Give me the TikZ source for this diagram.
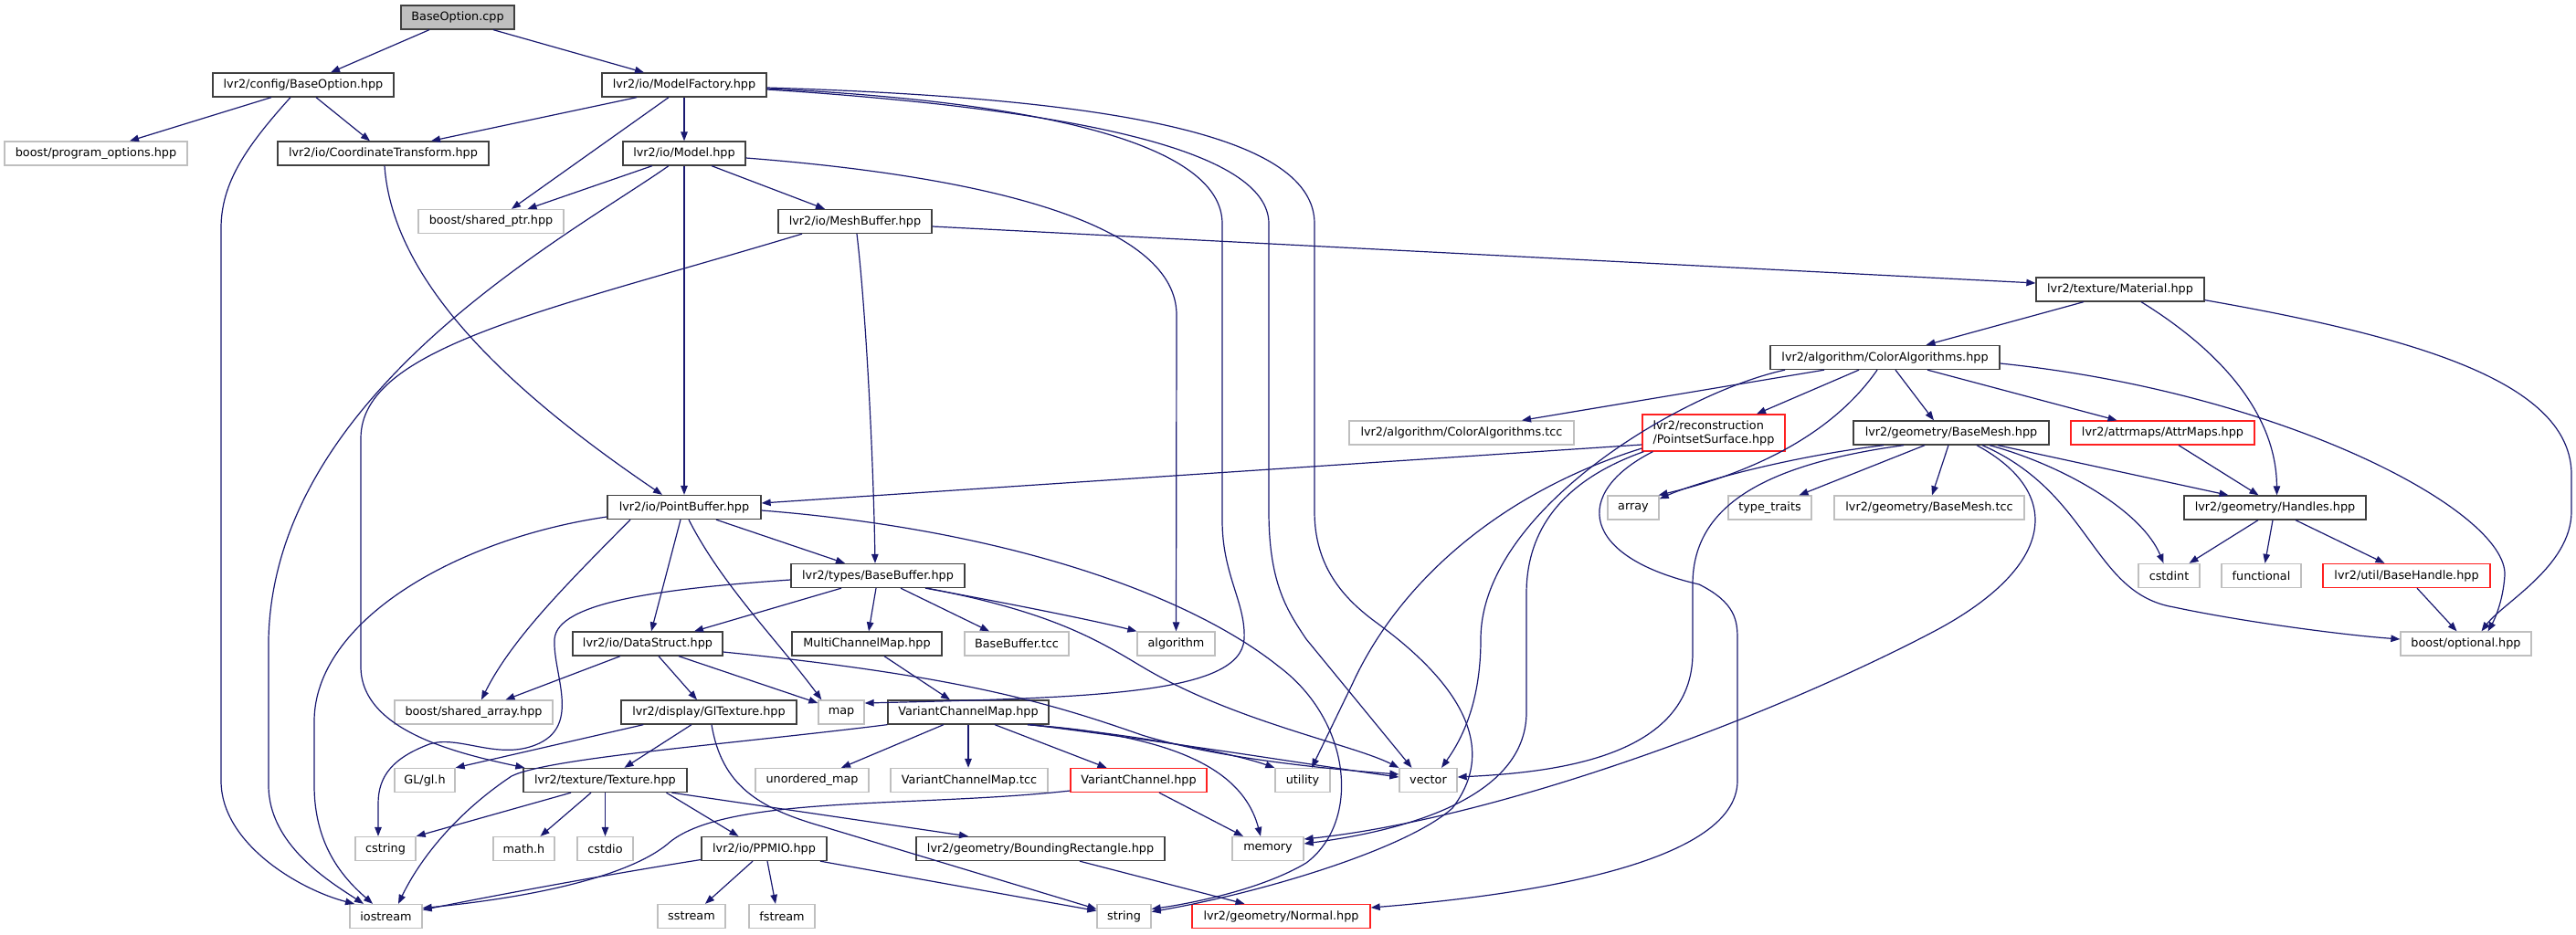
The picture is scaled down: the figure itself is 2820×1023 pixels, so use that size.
\documentclass[tikz,border=0pt]{standalone}
\usepackage{fontspec}
\setmainfont{DejaVu Sans}
\usetikzlibrary{arrows.meta}
\definecolor{edgeblue}{HTML}{191970}
\definecolor{boxgrey}{HTML}{BFBFBF}
\definecolor{boxdark}{HTML}{404040}
\definecolor{boxred}{HTML}{FF2020}

\begin{document}
\begin{tikzpicture}[x=1pt,y=-1pt,
  incbox/.style={draw, line width=1.3pt, minimum height=26pt, inner sep=2pt, fill=white,
    font=\fontsize{12.8}{15}\selectfont},
  hdrfile/.style={incbox, draw=boxdark},
  sysfile/.style={incbox, draw=boxgrey},
  missfile/.style={incbox, draw=boxred},
  rootfile/.style={incbox, draw=boxdark, fill=boxgrey},
  incedge/.style={draw=edgeblue, line width=1.2pt, -{Triangle[length=10pt,width=7.5pt]}}]
\useasboundingbox (0,0) rectangle (2820,1023);

% Text Node
\node[rootfile, minimum width=124pt] (root) at (501,19) {BaseOption.cpp};
\node[hdrfile, minimum width=198pt] (cfgopt) at (332,93) {lvr2/config/BaseOption.hpp};
\node[hdrfile, minimum width=180pt] (mfac) at (749,93) {lvr2/io/ModelFactory.hpp};
\node[sysfile, minimum width=200pt] (progopt) at (105,168) {boost/program\_options.hpp};
\node[hdrfile, minimum width=231pt] (coord) at (419.5,168) {lvr2/io/CoordinateTransform.hpp};
\node[hdrfile, minimum width=134pt] (model) at (749,168) {lvr2/io/Model.hpp};
\node[sysfile, minimum width=159pt] (sharedptr) at (537.5,242.5) {boost/shared\_ptr.hpp};
\node[hdrfile, minimum width=168pt] (meshbuf) at (936,242.5) {lvr2/io/MeshBuffer.hpp};
\node[hdrfile, minimum width=184pt] (material) at (2321,317) {lvr2/texture/Material.hpp};
\node[hdrfile, minimum width=251pt] (coloralg) at (2063.5,391.5) {lvr2/algorithm/ColorAlgorithms.hpp};
% Text Node
\node[sysfile, minimum width=246pt] (coloralgtcc) at (1600,474) {lvr2/algorithm/ColorAlgorithms.tcc};
\node[missfile, minimum width=156pt, minimum height=40pt, align=left] (pointset) at (1876,474) {lvr2/reconstruction\\/PointsetSurface.hpp};
\node[hdrfile, minimum width=214pt] (basemesh) at (2136,474) {lvr2/geometry/BaseMesh.hpp};
\node[missfile, minimum width=201pt] (attrmaps) at (2367.5,474) {lvr2/attrmaps/AttrMaps.hpp};
\node[hdrfile, minimum width=168pt] (pointbuf) at (749,555.5) {lvr2/io/PointBuffer.hpp};
\node[sysfile, minimum width=56pt] (array) at (1788,556) {array};
\node[sysfile, minimum width=91pt] (typetraits) at (1937.5,556) {type\_traits};
\node[sysfile, minimum width=208pt] (basemeshtcc) at (2112,556) {lvr2/geometry/BaseMesh.tcc};
\node[hdrfile, minimum width=199pt] (handles) at (2490.5,556) {lvr2/geometry/Handles.hpp};
\node[hdrfile, minimum width=190pt] (basebuf) at (961,630.5) {lvr2/types/BaseBuffer.hpp};
\node[sysfile, minimum width=67pt] (cstdint) at (2374.5,630.5) {cstdint};
\node[sysfile, minimum width=87pt] (functional) at (2475.5,630.5) {functional};
\node[missfile, minimum width=183pt] (basehandle) at (2634.5,630.5) {lvr2/util/BaseHandle.hpp};
% Text Node
\node[hdrfile, minimum width=164pt] (datastruct) at (709,705) {lvr2/io/DataStruct.hpp};
\node[hdrfile, minimum width=164pt] (multichan) at (949,705) {MultiChannelMap.hpp};
\node[sysfile, minimum width=114pt] (basebuftcc) at (1113,705) {BaseBuffer.tcc};
\node[sysfile, minimum width=85pt] (algorithm) at (1287.5,705) {algorithm};
\node[sysfile, minimum width=143pt] (optional) at (2699.5,705) {boost/optional.hpp};
\node[sysfile, minimum width=173pt] (sharedarr) at (518.5,780) {boost/shared\_array.hpp};
\node[hdrfile, minimum width=192pt] (gltex) at (776,780) {lvr2/display/GlTexture.hpp};
\node[sysfile, minimum width=50pt] (map) at (921,780) {map};
\node[hdrfile, minimum width=176pt] (varchanmap) at (1060,780) {VariantChannelMap.hpp};
\node[sysfile, minimum width=66pt] (glh) at (465,854.5) {GL/gl.h};
\node[hdrfile, minimum width=179pt] (texture) at (662.5,854.5) {lvr2/texture/Texture.hpp};
\node[sysfile, minimum width=124pt] (unordmap) at (889,854.5) {unordered\_map};
\node[sysfile, minimum width=172pt] (varchanmaptcc) at (1061,854.5) {VariantChannelMap.tcc};
\node[missfile, minimum width=149pt] (varchan) at (1246.5,854.5) {VariantChannel.hpp};
\node[sysfile, minimum width=60pt] (utility) at (1426,854.5) {utility};
\node[sysfile, minimum width=63pt] (vector) at (1563.5,854.5) {vector};
% Text Node
\node[sysfile, minimum width=66pt] (cstring) at (422,929.5) {cstring};
\node[sysfile, minimum width=67pt] (mathh) at (573.5,929.5) {math.h};
\node[sysfile, minimum width=61pt] (cstdio) at (662.5,929.5) {cstdio};
\node[hdrfile, minimum width=137pt] (ppmio) at (836.5,929.5) {lvr2/io/PPMIO.hpp};
\node[hdrfile, minimum width=272pt] (boundrect) at (1139,929.5) {lvr2/geometry/BoundingRectangle.hpp};
\node[sysfile, minimum width=78pt] (memory) at (1388,929.5) {memory};
\node[sysfile, minimum width=79pt] (iostream) at (422.5,1003.5) {iostream};
\node[sysfile, minimum width=74pt] (sstream) at (757,1003.5) {sstream};
\node[sysfile, minimum width=72pt] (fstream) at (856,1003.5) {fstream};
\node[sysfile, minimum width=59pt] (string) at (1230.5,1003.5) {string};
\node[missfile, minimum width=195pt] (normal) at (1402.5,1003.5) {lvr2/geometry/Normal.hpp};

%Straight Lines
\draw[incedge] ([xshift=-31pt]root.south) -- ([xshift=30pt]cfgopt.north);
\draw[incedge] ([xshift=39pt]root.south) -- ([xshift=-44pt]mfac.north);
\draw[incedge] ([xshift=-35pt]cfgopt.south) -- ([xshift=37pt]progopt.north);
\draw[incedge] ([xshift=14pt]cfgopt.south) -- ([xshift=-14.5pt]coord.north);
\draw[incedge] ([xshift=-52pt]mfac.south) -- ([xshift=52.5pt]coord.north);
\draw[incedge] ([xshift=-17pt]mfac.south) -- ([xshift=22.5pt]sharedptr.north);
\draw[incedge] (mfac) -- (model);
\draw[incedge] (model) -- (pointbuf);
\draw[incedge] ([xshift=30pt]model.south) -- ([xshift=-33pt]meshbuf.north);
\draw[incedge] ([xshift=-35pt]model.south) -- ([xshift=40pt]sharedptr.north);
\draw[incedge] ([yshift=-5.5pt]meshbuf.east) -- ([yshift=7pt]material.west);
\draw[incedge] ([xshift=-40pt]material.south) -- ([xshift=45pt]coloralg.north);
\draw[incedge] ([xshift=-66.5pt]coloralg.south) -- ([xshift=66pt]coloralgtcc.north);
\draw[incedge] ([xshift=-28.5pt]coloralg.south) -- ([xshift=47pt]pointset.north);
\draw[incedge] ([xshift=11.5pt]coloralg.south) -- ([xshift=-19pt]basemesh.north);
\draw[incedge] ([xshift=46.5pt]coloralg.south) -- ([xshift=-50pt]attrmaps.north);
\draw[incedge] ([yshift=-13pt]pointset.west) -- ([yshift=4.5pt]pointbuf.east);
\draw[incedge] ([xshift=-29pt]basemesh.south) -- ([xshift=32pt]typetraits.north);
\draw[incedge] ([xshift=-3pt]basemesh.south) -- ([xshift=3pt]basemeshtcc.north);
\draw[incedge] ([xshift=51pt]basemesh.south) -- ([xshift=-51pt]handles.north);
\draw[incedge] ([xshift=17.5pt]attrmaps.south) -- ([xshift=-18pt]handles.north);
\draw[incedge] ([xshift=-18.5pt]handles.south) -- ([xshift=22pt]cstdint.north);
\draw[incedge] ([xshift=-2.5pt]handles.south) -- ([xshift=4pt]functional.north);
\draw[incedge] ([xshift=22.5pt]handles.south) -- ([xshift=-24pt]basehandle.north);
\draw[incedge] ([xshift=11.5pt]basehandle.south) -- ([xshift=-10pt]optional.north);
\draw[incedge] ([xshift=-4pt]pointbuf.south) -- ([xshift=4pt]datastruct.north);
\draw[incedge] ([xshift=35pt]pointbuf.south) -- ([xshift=-36pt]basebuf.north);
\draw[incedge] ([xshift=-40pt]basebuf.south) -- ([xshift=51pt]datastruct.north);
\draw[incedge] ([xshift=-2pt]basebuf.south) -- ([xshift=2pt]multichan.north);
\draw[incedge] ([xshift=25pt]basebuf.south) -- ([xshift=-30pt]basebuftcc.north);
\draw[incedge] ([xshift=-30pt]datastruct.south) -- ([xshift=35pt]sharedarr.north);
\draw[incedge] ([xshift=12pt]datastruct.south) -- ([xshift=-13pt]gltex.north);
\draw[incedge] ([xshift=34pt]datastruct.south) -- ([yshift=10pt]map.west);
\draw[incedge] ([xshift=19pt]multichan.south) -- ([xshift=-20pt]varchanmap.north);
\draw[incedge] ([xshift=25pt]gltex.south west) -- (glh.north east);
\draw[incedge] ([xshift=-19pt]gltex.south) -- ([xshift=21pt]texture.north);
\draw[incedge] ([xshift=-27pt]varchanmap.south) -- ([xshift=32pt]unordmap.north);
\draw[incedge] (varchanmap.south) -- ([xshift=-1pt]varchanmaptcc.north);
\draw[incedge] ([xshift=29pt]varchanmap.south) -- ([xshift=-35pt]varchan.north);
\draw[incedge] ([xshift=22.5pt]varchan.south) -- ([xshift=-27pt]memory.north);
\draw[incedge] ([xshift=-37.5pt]texture.south) -- (cstring.north east);
\draw[incedge] ([xshift=-15.5pt]texture.south) -- ([xshift=18pt]mathh.north);
\draw[incedge] (texture) -- (cstdio);
\draw[incedge] ([xshift=67pt]texture.south) -- ([xshift=-28pt]ppmio.north);
\draw[incedge] ([xshift=73pt]texture.south) -- ([xshift=-79pt]boundrect.north);
\draw[incedge] ([xshift=-12.5pt]ppmio.south) -- ([xshift=15pt]sstream.north);
\draw[incedge] ([xshift=3.5pt]ppmio.south) -- ([xshift=-7pt]fstream.north);
\draw[incedge] ([xshift=61.5pt]ppmio.south) -- ([yshift=6pt]string.west);
\draw[incedge] ([xshift=43pt]boundrect.south) -- ([xshift=-40pt]normal.north);

%Curve Lines
\draw[incedge] ([xshift=-14pt]cfgopt.south) .. controls (270,160) and (242,200) .. (242,250) -- (242,855) .. controls (242,925) and (330,975) .. ([xshift=-34.5pt]iostream.north);
\draw[incedge] ([yshift=-4pt]mfac.east) .. controls (1150,112) and (1338,160) .. (1338,245) -- (1338,570) .. controls (1338,630) and (1364,660) .. (1362,700) .. controls (1358,760) and (1200,764) .. ([yshift=10pt]map.east);
\draw[incedge] ([yshift=-5pt]mfac.east) .. controls (1180,120) and (1389,165) .. (1389,245) -- (1389,560) .. controls (1389,640) and (1410,670) .. (1430,700) -- ([xshift=-18pt]vector.north);
\draw[incedge] ([yshift=-3pt]mfac.east) .. controls (1230,108) and (1439,150) .. (1439,245) -- (1439,560) .. controls (1439,620) and (1470,655) .. (1507,682) .. controls (1600,750) and (1640,820) .. (1590,885) .. controls (1540,930) and (1380,978) .. ([yshift=5pt]string.east);
\draw[incedge] ([xshift=-17pt]model.south) .. controls (620,260) and (300,430) .. (294,700) -- (294,860) .. controls (294,925) and (360,965) .. ([xshift=-24.5pt]iostream.north);
\draw[incedge] ([yshift=-5pt]model.east) .. controls (1100,195) and (1288,250) .. (1288,345) -- (algorithm.north);
\draw[incedge] ([xshift=1.5pt]coord.south) .. controls (430,310) and (560,430) .. ([xshift=-24pt]pointbuf.north);
\draw[incedge] ([xshift=2pt]meshbuf.south) .. controls (948,340) and (956,500) .. ([xshift=-3pt]basebuf.north);
\draw[incedge] ([xshift=-58pt]meshbuf.south) .. controls (600,340) and (395,380) .. (395,480) -- (395,730) .. controls (395,800) and (500,825) .. ([xshift=2pt]texture.north west);
\draw[incedge] ([xshift=23pt]material.south) .. controls (2440,390) and (2492,460) .. ([xshift=2pt]handles.north);
\draw[incedge] ([yshift=2pt]material.south east) .. controls (2650,370) and (2815,420) .. (2815,520) -- (2815,560) .. controls (2815,620) and (2740,660) .. ([xshift=17pt]optional.north);
\draw[incedge] ([xshift=-109.5pt]coloralg.south) .. controls (1840,430) and (1621,560) .. (1621,700) .. controls (1621,770) and (1600,810) .. ([xshift=14.5pt]vector.north);
\draw[incedge] ([xshift=-8.5pt]coloralg.south) .. controls (2010,470) and (1930,515) .. ([xshift=-1pt]array.north east);
\draw[incedge] ([yshift=-6.5pt]coloralg.east) .. controls (2500,430) and (2745,560) .. (2742,630) .. controls (2740,660) and (2730,680) .. ([xshift=24pt]optional.north);
\draw[incedge] ([yshift=-17pt]pointset.west) .. controls (1640,540) and (1530,640) .. (1480,750) -- ([xshift=10pt]utility.north);
\draw[incedge] ([xshift=2pt]pointset.south west) .. controls (1700,530) and (1671,590) .. (1671,650) -- (1671,780) .. controls (1671,880) and (1520,912) .. ([yshift=5.5pt]memory.east);
\draw[incedge] ([xshift=12pt]pointset.south west) .. controls (1720,540) and (1730,610) .. (1860,640) .. controls (1900,660) and (1902,680) .. (1902,700) -- (1902,855) .. controls (1902,950) and (1650,982) .. ([yshift=9.5pt]normal.east);
\draw[incedge] ([xshift=-74pt]basemesh.south) .. controls (1960,500) and (1860,527) .. ([yshift=-4pt]array.north east);
\draw[incedge] ([xshift=-52pt]basemesh.south) .. controls (1920,510) and (1853,560) .. (1853,640) -- (1853,715) .. controls (1853,830) and (1700,846) .. ([yshift=3.5pt]vector.east);
\draw[incedge] ([xshift=42pt]basemesh.south) .. controls (2260,510) and (2345,560) .. ([xshift=-6pt]cstdint.north);
\draw[incedge] ([xshift=34pt]basemesh.south) .. controls (2290,540) and (2290,650) .. (2380,665) .. controls (2450,680) and (2560,695) .. ([yshift=5pt]optional.west);
\draw[incedge] ([xshift=28pt]basemesh.south) .. controls (2260,540) and (2250,620) .. (2120,690) .. controls (1950,780) and (1650,895) .. ([yshift=10.5pt]memory.east);
\draw[incedge] ([yshift=-10.5pt]pointbuf.west) .. controls (500,590) and (344,680) .. (344,790) -- (344,860) .. controls (344,930) and (380,965) .. ([xshift=-14.5pt]iostream.north);
\draw[incedge] ([xshift=-59pt]pointbuf.south) .. controls (620,640) and (560,700) .. ([xshift=8.5pt]sharedarr.north);
\draw[incedge] ([xshift=5pt]pointbuf.south) .. controls (790,640) and (850,700) .. ([xshift=4pt]map.north west);
\draw[incedge] ([yshift=-3.5pt]pointbuf.east) .. controls (1100,580) and (1300,650) .. (1400,730) .. controls (1480,790) and (1490,900) .. (1430,945) .. controls (1380,975) and (1300,990) .. ([yshift=8pt]string.east);
\draw[incedge] ([xshift=52pt]basebuf.south) .. controls (1100,660) and (1200,680) .. (algorithm.north west);
\draw[incedge] ([xshift=54pt]basebuf.south) .. controls (1150,670) and (1200,700) .. (1250,730) .. controls (1350,790) and (1480,815) .. (vector.north west);
\draw[incedge] ([yshift=-4.5pt]basebuf.west) .. controls (720,645) and (610,660) .. (607,700) .. controls (605,740) and (640,800) .. (580,818) .. controls (540,830) and (500,805) .. (470,815) .. controls (430,830) and (414,850) .. (414,880) -- ([xshift=-8pt]cstring.north);
\draw[incedge] ([yshift=-9pt]datastruct.east) .. controls (1050,740) and (1150,770) .. (1250,805) .. controls (1330,830) and (1450,842) .. ([yshift=6.5pt]vector.west);
\draw[incedge] ([xshift=3pt]gltex.south) .. controls (790,860) and (830,885) .. (900,905) -- ([yshift=8pt]string.west);
\draw[incedge] (varchanmap.south west) .. controls (800,815) and (600,830) .. (560,850) .. controls (500,890) and (460,940) .. ([xshift=13.5pt]iostream.north);
\draw[incedge] ([xshift=65pt]varchanmap.south) .. controls (1250,805) and (1350,825) .. (utility.north west);
\draw[incedge] ([xshift=68pt]varchanmap.south) .. controls (1300,815) and (1450,840) .. ([yshift=3.5pt]vector.west);
\draw[incedge] ([xshift=65pt]varchanmap.south) .. controls (1280,805) and (1360,840) .. ([xshift=-8pt]memory.north);
\draw[incedge] ([yshift=-11.5pt]varchan.west) .. controls (1000,885) and (790,870) .. (730,925) .. controls (680,965) and (560,985) .. ([yshift=9pt]iostream.east);
\draw[incedge] ([yshift=-12pt]ppmio.west) .. controls (650,960) and (520,985) .. ([yshift=7pt]iostream.east);

\end{tikzpicture}
\end{document}
